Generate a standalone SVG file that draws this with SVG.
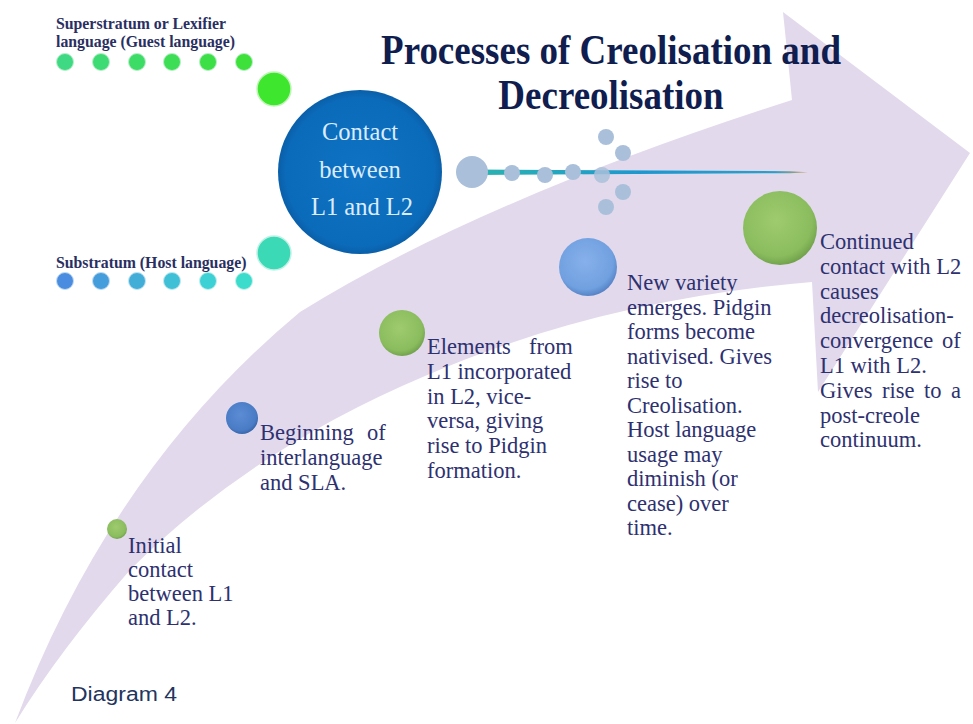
<svg xmlns="http://www.w3.org/2000/svg" width="973" height="724" viewBox="0 0 973 724">
<defs>
<style>
.body{font-family:"Liberation Serif","Times New Roman",serif;font-size:22.5px;fill:#2e3170;}
.lab{font-family:"Liberation Serif","Times New Roman",serif;font-size:15.8px;font-weight:bold;fill:#2a2f62;}
.title{font-family:"Liberation Serif","Times New Roman",serif;font-size:37px;font-weight:bold;fill:#101d4f;}
.dotc{fill:#aabfda;}
</style>
<radialGradient id="sg" cx="45%" cy="40%" r="62%"><stop offset="0" stop-color="#9ecb6e"/><stop offset="0.78" stop-color="#8abc5e"/><stop offset="1" stop-color="#6e9f49"/></radialGradient>
<radialGradient id="sb" cx="45%" cy="40%" r="62%"><stop offset="0" stop-color="#86b0ea"/><stop offset="0.78" stop-color="#71a0e0"/><stop offset="1" stop-color="#517fc2"/></radialGradient>
<radialGradient id="sbd" cx="45%" cy="40%" r="62%"><stop offset="0" stop-color="#5b8cd4"/><stop offset="0.78" stop-color="#4a7cc6"/><stop offset="1" stop-color="#3563a8"/></radialGradient>
<radialGradient id="sbig" cx="50%" cy="50%" r="50%"><stop offset="0" stop-color="#0f72c2"/><stop offset="0.9" stop-color="#0b6bbb"/><stop offset="1" stop-color="#0a5fa8"/></radialGradient>
<linearGradient id="needle" x1="0" y1="0" x2="1" y2="0"><stop offset="0" stop-color="#2bb3b0"/><stop offset="0.5" stop-color="#1e97cf"/><stop offset="0.9" stop-color="#2aa0c8"/><stop offset="1" stop-color="#d0a060"/></linearGradient>
</defs>
<rect width="973" height="724" fill="#ffffff"/>
<path id="bigArrow" d="M15,723 Q110,470 300,312 Q480,200 792,100 L783,12 L970,153 L818,392 L812,282 Q600,300 425,376 Q250,450 130,570 Q60,650 15,723 Z" fill="#e2d9ec"/>
<g id="title">
<text class="title" text-anchor="middle" transform="translate(611,64) scale(1,1.15)">Processes of Creolisation and</text>
<text class="title" text-anchor="middle" transform="translate(611,109) scale(1,1.15)">Decreolisation</text>
</g>
<g id="superstratum">
<text class="lab" x="56" y="29">Superstratum  or Lexifier</text>
<text class="lab" x="56" y="47">language  (Guest language)</text>
<circle cx="65" cy="62" r="8.5" fill="#3fd983" stroke="#b8f0c8" stroke-width="1"/>
<circle cx="101" cy="62" r="8.5" fill="#3edb75" stroke="#b8f0c8" stroke-width="1"/>
<circle cx="137" cy="62" r="8.5" fill="#3ddc66" stroke="#b8f0c8" stroke-width="1"/>
<circle cx="172" cy="62" r="8.5" fill="#3dde55" stroke="#b8f0c8" stroke-width="1"/>
<circle cx="208" cy="62" r="8.5" fill="#3ddf47" stroke="#b8f0c8" stroke-width="1"/>
<circle cx="244" cy="62" r="8.5" fill="#3ee03a" stroke="#b8f0c8" stroke-width="1"/>
<circle cx="274" cy="89" r="17" fill="#3fe62e" stroke="#c0f5b8" stroke-width="1.5"/>
</g>
<g id="substratum">
<text class="lab" x="56" y="268">Substratum  (Host language)</text>
<circle cx="65" cy="281" r="8.5" fill="#4a8de0" stroke="#c0dcf2" stroke-width="1"/>
<circle cx="101" cy="281" r="8.5" fill="#469ddc" stroke="#c0dcf2" stroke-width="1"/>
<circle cx="137" cy="281" r="8.5" fill="#42aed8" stroke="#c0e4f2" stroke-width="1"/>
<circle cx="172" cy="281" r="8.5" fill="#3fc0d6" stroke="#c0eaf0" stroke-width="1"/>
<circle cx="208" cy="281" r="8.5" fill="#3dd0d4" stroke="#c0f0ee" stroke-width="1"/>
<circle cx="244" cy="281" r="8.5" fill="#3bdccb" stroke="#c0f2ea" stroke-width="1"/>
<circle cx="274" cy="253" r="17" fill="#3bd9b6" stroke="#c0f2e6" stroke-width="1.5"/>
</g>
<g id="contact">
<circle cx="360" cy="172" r="82" fill="url(#sbig)"/>
<text x="360" y="140" text-anchor="middle" font-family="Liberation Serif, Times New Roman, serif" font-size="24.5" fill="#dcecff">Contact</text>
<text x="360" y="178" text-anchor="middle" font-family="Liberation Serif, Times New Roman, serif" font-size="24.5" fill="#dcecff">between</text>
<text x="362" y="215" text-anchor="middle" font-family="Liberation Serif, Times New Roman, serif" font-size="24.5" fill="#dcecff">L1 and L2</text>
</g>
<g id="connectors">
<path d="M478,169.5 L790,171.2 L808,172.2 L790,173.2 L478,175 Z" fill="url(#needle)"/>
<circle class="dotc" cx="472" cy="172" r="16"/>
<circle class="dotc" cx="512" cy="173" r="8"/>
<circle class="dotc" cx="545" cy="175" r="8"/>
<circle class="dotc" cx="573" cy="172" r="8"/>
<circle class="dotc" cx="602" cy="175" r="8" opacity="0.85"/>
<circle class="dotc" cx="606" cy="137" r="8"/>
<circle class="dotc" cx="623" cy="153" r="8"/>
<circle class="dotc" cx="623" cy="192" r="8"/>
<circle class="dotc" cx="606" cy="207" r="8"/>
</g>
<g id="step1">
<circle cx="117" cy="529" r="10" fill="url(#sg)"/>
<text class="body" x="128" y="553">Initial</text>
<text class="body" x="128" y="577">contact</text>
<text class="body" x="128" y="601">between L1</text>
<text class="body" x="128" y="625">and L2.</text>
</g>
<g id="step2">
<circle cx="242" cy="418" r="16" fill="url(#sbd)"/>
<text class="body" x="260" y="440">Beginning</text>
<text class="body" x="367" y="440">of</text>
<text class="body" x="260" y="465">interlanguage</text>
<text class="body" x="260" y="490">and SLA.</text>
</g>
<g id="step3">
<circle cx="402" cy="333" r="23" fill="url(#sg)"/>
<text class="body" x="427" y="354">Elements</text>
<text class="body" x="529" y="354">from</text>
<text class="body" x="427" y="379">L1 incorporated</text>
<text class="body" x="427" y="404">in L2, vice-</text>
<text class="body" x="427" y="428">versa, giving</text>
<text class="body" x="427" y="453">rise to Pidgin</text>
<text class="body" x="427" y="478">formation.</text>
</g>
<g id="step4">
<circle cx="588" cy="267" r="29" fill="url(#sb)"/>
<text class="body" x="627" y="290">New variety</text>
<text class="body" x="627" y="314.5">emerges.  Pidgin</text>
<text class="body" x="627" y="339">forms become</text>
<text class="body" x="627" y="363.5">nativised.  Gives</text>
<text class="body" x="627" y="388">rise to</text>
<text class="body" x="627" y="412.5">Creolisation.</text>
<text class="body" x="627" y="437">Host language</text>
<text class="body" x="627" y="461.5">usage may</text>
<text class="body" x="627" y="486">diminish (or</text>
<text class="body" x="627" y="510.5">cease) over</text>
<text class="body" x="627" y="535">time.</text>
</g>
<g id="step5">
<circle cx="780" cy="228" r="37" fill="url(#sg)"/>
<text class="body" x="820" y="249">Continued</text>
<text class="body" x="820" y="273.8">contact with L2</text>
<text class="body" x="820" y="298.6">causes</text>
<text class="body" x="820" y="323.4">decreolisation-</text>
<text class="body" x="820" y="348.2">convergence</text>
<text class="body" x="942" y="348.2">of</text>
<text class="body" x="820" y="373">L1 with L2.</text>
<text class="body" x="820" y="397.8">Gives</text>
<text class="body" x="882" y="397.8">rise</text>
<text class="body" x="924" y="397.8">to</text>
<text class="body" x="951" y="397.8">a</text>
<text class="body" x="820" y="422.6">post-creole</text>
<text class="body" x="820" y="447.4">continuum.</text>
</g>
<text id="caption" x="71" y="701" font-family="Liberation Sans, Arial, sans-serif" font-size="20" fill="#23355e" textLength="106" lengthAdjust="spacingAndGlyphs">Diagram 4</text>
</svg>
